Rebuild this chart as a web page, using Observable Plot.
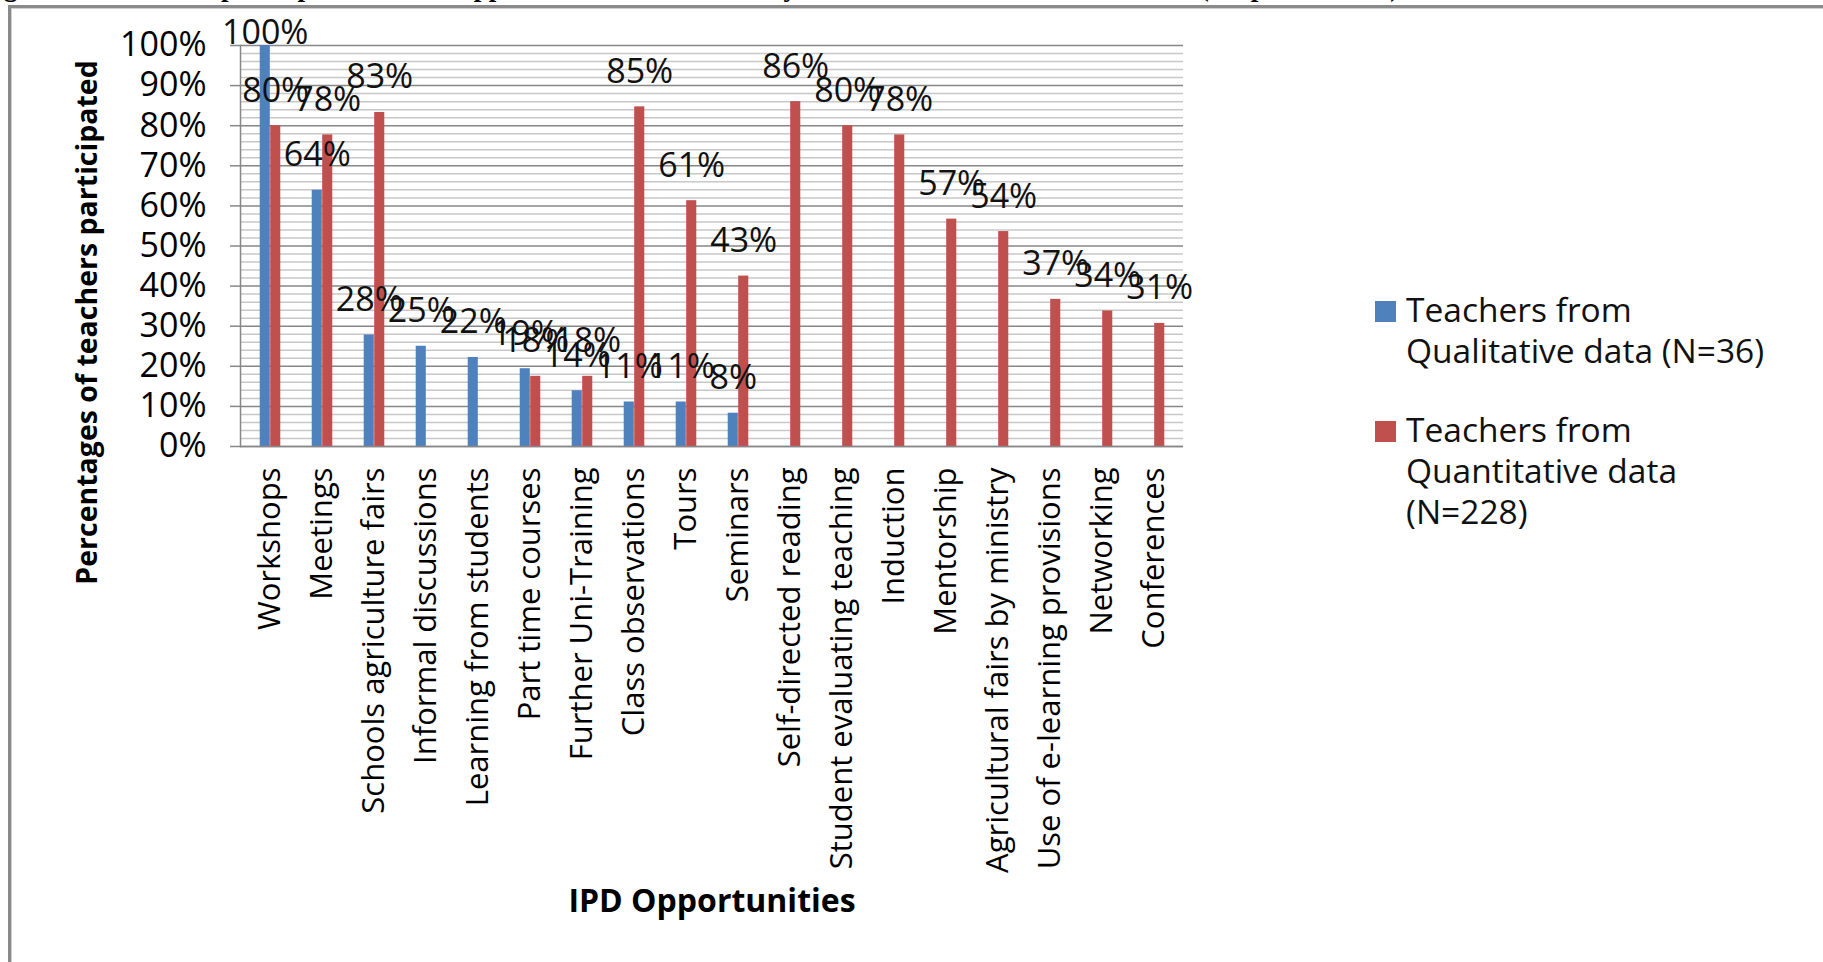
<!DOCTYPE html>
<html>
<head>
<meta charset="utf-8">
<script src="https://cdn.jsdelivr.net/npm/d3@7"></script>
<script src="https://cdn.jsdelivr.net/npm/@observablehq/plot@0.6"></script>
<style>
  html, body { margin: 0; padding: 0; background: #fff; overflow: hidden; width: 1823px; height: 962px; }
  #page { position: relative; width: 1823px; height: 962px; overflow: hidden; }
  #title { position: absolute; left: -20px; top: -26px; white-space: nowrap; font-family: "Liberation Serif", "Times New Roman", serif; font-weight: bold; font-size: 27px; line-height: 27px; color: #000; }
  #frame { position: absolute; left: 8px; top: 5px; width: 2000px; height: 1200px; border-left: 3px solid #8a8a8a; border-top: 3px solid #8a8a8a; box-shadow: inset 1px 1px 0 #cfcfcf; box-sizing: border-box; background: #fff; }
  #chart { position: absolute; left: 0; top: 0; }
  #legend { position: absolute; left: 0; top: 0; font-family: "Open Sans", sans-serif; font-size: 33.5px; line-height: 41px; color: #111; }
  .sw { position: absolute; width: 21px; height: 21px; }
  .lt { position: absolute; white-space: nowrap; }
</style>
</head>
<body>
<div id="page">
  <div id="title">Figure 4.8: Teachers participation in IPD opportunities as identified by Qualitative and Quantitative data (Responses in %)</div>
  <div id="frame"></div>
  <div id="chart"></div>
  <div id="legend"></div>
</div>
<script>
// ---- Data ----
const categories = [
  "Workshops", "Meetings", "Schools agriculture fairs", "Informal discussions",
  "Learning from students", "Part time courses", "Further Uni-Training",
  "Class observations", "Tours", "Seminars", "Self-directed reading",
  "Student evaluating teaching", "Induction", "Mentorship",
  "Agricultural fairs by ministry", "Use of e-learning provisions",
  "Networking", "Conferences"
];
const qualitative = [100, 63.9, 27.8, 25, 22.2, 19.4, 13.9, 11.1, 11.1, 8.3,
  null, null, null, null, null, null, null, null];
const quantitative = [80, 77.7, 83.3, null, null, 17.5, 17.5, 84.7, 61.3, 42.5,
  86, 80, 77.7, 56.7, 53.6, 36.7, 33.8, 30.7];
const seriesNames = [
  ["Teachers from", "Qualitative data (N=36)"],
  ["Teachers from", "Quantitative data", "(N=228)"]
];
const seriesColors = ["#4F81BD", "#C0504D"];
const majorTicks = [0, 10, 20, 30, 40, 50, 60, 70, 80, 90, 100];
const minorTicks = [2, 4, 6, 8, 12, 14, 16, 18, 22, 24, 26, 28, 32, 34, 36, 38, 42, 44, 46, 48,
  52, 54, 56, 58, 62, 64, 66, 68, 72, 74, 76, 78, 82, 84, 86, 88, 92, 94, 96, 98];
const yTitle = "Percentages of teachers participated";
const xTitle = "IPD Opportunities";

// ---- Build rows ----
const qualRows = categories.map((c, i) => ({cat: c, v: qualitative[i]})).filter(d => d.v != null);
const quanRows = categories.map((c, i) => ({cat: c, v: quantitative[i]})).filter(d => d.v != null);

const W = 1823, H = 962;
const pLeft = 240, pRight = 1183, pTop = 45, pBottom = 446;
const bw = (pRight - pLeft) / categories.length;
const barW = bw / 5;          // two bars per group, gap width 150%
const half = bw / 2;
const labelY = d => Math.min(d.v + 8.7, 103.1);
const fmt = d => Math.round(d.v) + "%";
const axisGray = "#878787";

const chart = Plot.plot({
  width: W,
  height: H,
  marginLeft: pLeft,
  marginRight: W - pRight,
  marginTop: pTop,
  marginBottom: H - pBottom,
  x: {domain: categories, padding: 0, axis: null},
  y: {domain: [0, 100], axis: null},
  style: {fontFamily: "'Open Sans', sans-serif", color: "#000", background: "transparent", overflow: "visible"},
  marks: [
    Plot.gridY(minorTicks, {stroke: "#c8c8c8", strokeOpacity: 1, strokeWidth: 1.5}),
    Plot.gridY(majorTicks, {stroke: axisGray, strokeOpacity: 1, strokeWidth: 1.5}),
    Plot.frame({anchor: "left", stroke: axisGray, strokeWidth: 1.5}),
    Plot.axisY(majorTicks, {label: null, tickSize: 10, tickPadding: 24, tickFormat: d => d + "%", fontSize: 34, stroke: axisGray, strokeWidth: 1.5, fill: "#000"}),
    Plot.axisX({label: null, tickSize: 0, tickPadding: 21, tickRotate: -90, fontSize: 31, fill: "#000"}),
    Plot.barY(qualRows, {x: "cat", y: "v", fill: seriesColors[0], insetLeft: half - barW, insetRight: half}),
    Plot.barY(quanRows, {x: "cat", y: "v", fill: seriesColors[1], insetLeft: half, insetRight: half - barW}),
    Plot.ruleY([0], {stroke: axisGray, strokeWidth: 1.5}),
    Plot.text(qualRows, {x: "cat", y: labelY, text: fmt, dx: -barW / 2, fontSize: 34, fill: "#111"}),
    Plot.text(quanRows, {x: "cat", y: labelY, text: fmt, dx: barW / 2, fontSize: 34, fill: "#111"}),
    Plot.text([yTitle], {frameAnchor: "left", textAnchor: "middle", lineAnchor: "middle", dx: 87 - pLeft, dy: 322 - (pTop + pBottom) / 2, rotate: -90, fontWeight: "bold", fontSize: 28.5, fill: "#000"}),
    Plot.text([xTitle], {frameAnchor: "bottom", textAnchor: "middle", lineAnchor: "middle", dy: 901 - pBottom, fontWeight: "bold", fontSize: 32, fill: "#000"})
  ]
});
document.getElementById("chart").appendChild(chart);

// ---- Legend ----
const legend = document.getElementById("legend");
const legendTops = [289, 409];
seriesNames.forEach((lines, i) => {
  const sw = document.createElement("div");
  sw.className = "sw";
  sw.style.left = "1375px";
  sw.style.top = (legendTops[i] + 12) + "px";
  sw.style.background = seriesColors[i];
  legend.appendChild(sw);
  const t = document.createElement("div");
  t.className = "lt";
  t.style.left = "1406px";
  t.style.top = legendTops[i] + "px";
  t.innerHTML = lines.join("<br>");
  legend.appendChild(t);
});
</script>
</body>
</html>
